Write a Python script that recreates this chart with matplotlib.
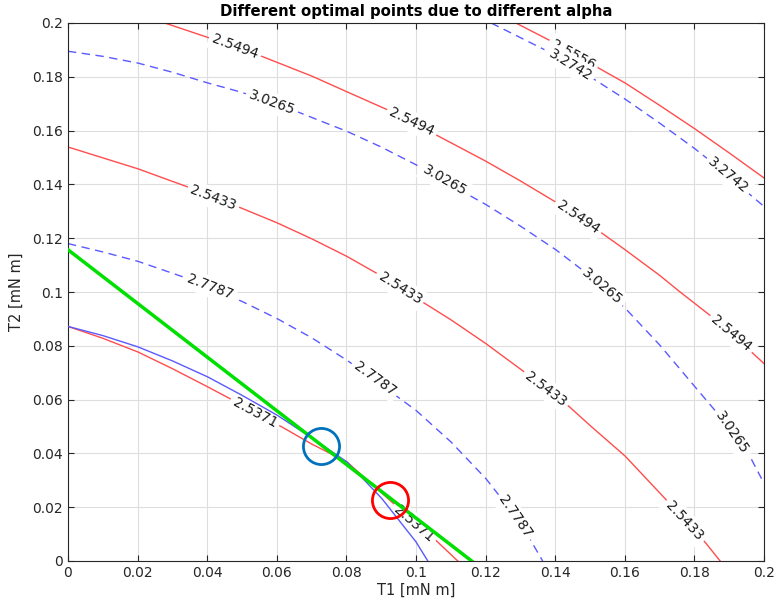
import numpy as np
import matplotlib
matplotlib.use('Agg')
import matplotlib.pyplot as plt

# contour lines, (T1, T2) in mN m
r2537_x = [0.0, 0.0100, 0.0201, 0.0300, 0.0402, 0.0469, 0.0615, 0.0700, 0.0802, 0.0936, 0.1000, 0.1057, 0.112]
r2537_y = [0.0872, 0.0828, 0.0777, 0.0715, 0.0647, 0.0601, 0.0498, 0.0435, 0.0368, 0.0213, 0.0135, 0.0077, 0.0]
b_in_x = [0.0, 0.0100, 0.0201, 0.0300, 0.0402, 0.05, 0.0601, 0.0700, 0.0802, 0.0902, 0.1, 0.1034]
b_in_y = [0.0872, 0.0838, 0.0796, 0.0744, 0.0684, 0.0616, 0.0542, 0.0458, 0.0368, 0.0232, 0.0071, 0.0]
r2543_x = [0.0, 0.0201, 0.0345, 0.0498, 0.0601, 0.0700, 0.0802, 0.0900, 0.1, 0.1100, 0.1201, 0.1311, 0.1441,
           0.15, 0.1601, 0.172, 0.183, 0.1874]
r2543_y = [0.1539, 0.1458, 0.139, 0.1312, 0.1257, 0.1198, 0.1132, 0.1060, 0.0978, 0.0897, 0.0808, 0.0703, 0.0573,
           0.0504, 0.0390, 0.0226, 0.0071, 0.0]
r2549_x = [0.0278, 0.0398, 0.0557, 0.0700, 0.0802, 0.0917, 0.1062, 0.1201, 0.1300, 0.1398, 0.1534, 0.1601,
           0.1700, 0.1759, 0.1845, 0.1969, 0.2]
r2549_y = [0.2, 0.1948, 0.1876, 0.1803, 0.1744, 0.1678, 0.1581, 0.1486, 0.1413, 0.1337, 0.1219, 0.1157,
           0.1062, 0.1, 0.0913, 0.0771, 0.0734]
r2556_x = [0.1287, 0.1383, 0.1524, 0.1601, 0.1700, 0.1802, 0.1900, 0.2]
r2556_y = [0.2, 0.1936, 0.1833, 0.1777, 0.1694, 0.1606, 0.1517, 0.1424]
b3274_x = [0.1216, 0.1369, 0.1514, 0.1601, 0.1700, 0.1802, 0.1835, 0.196, 0.2]
b3274_y = [0.2, 0.1901, 0.1789, 0.1717, 0.1628, 0.1532, 0.1498, 0.1362, 0.1318]
b3027_x = [0.0, 0.0100, 0.0201, 0.0300, 0.0402, 0.05, 0.0663, 0.0802, 0.0900, 0.1, 0.1158, 0.1201,
           0.1300, 0.1402, 0.1489, 0.1601, 0.1701, 0.1802, 0.1859, 0.1955, 0.1993]
b3027_y = [0.1895, 0.1876, 0.1851, 0.1817, 0.1777, 0.1742, 0.1668, 0.1597, 0.1539, 0.1473, 0.1356, 0.1325,
           0.1245, 0.1157, 0.1071, 0.0940, 0.0802, 0.0647, 0.056, 0.0400, 0.0306]
b2779_x = [0.0, 0.0100, 0.0201, 0.034, 0.05, 0.0601, 0.0700, 0.0802, 0.0900, 0.1, 0.1101, 0.1201,
           0.1300, 0.1364]
b2779_y = [0.118, 0.1149, 0.1114, 0.1052, 0.0965, 0.0901, 0.0830, 0.0746, 0.0655, 0.056, 0.0442, 0.0306,
           0.0143, 0.0]

# tangent line and the two optimal points
green_x = [0.0, 0.116]
green_y = [0.1157, 0.0]
opt_blue = (0.0728, 0.0428)
opt_red = (0.0926, 0.0226)

xticks = np.arange(0, 0.2001, 0.02)
yticks = np.arange(0, 0.2001, 0.02)

fig = plt.figure(figsize=(7.75, 6.07), dpi=100)
ax = fig.add_axes([68/775, 1-561/607, 696/775, 538/607])

red = '#ff4d4d'
blue = '#5a5aff'
dash = (0, (6, 4))

curves = [
    (r2537_x, r2537_y, red, '-', 2, '2.5371', [(0.0537, 0.0552), (0.0993, 0.0138)]),
    (b_in_x, b_in_y, blue, '-', 3, None, []),
    (r2543_x, r2543_y, red, '-', 2, '2.5433', [(0.0417, 0.1349), (0.0954, 0.1015), (0.1373, 0.0640), (0.1772, 0.0148)]),
    (r2549_x, r2549_y, red, '-', 2, '2.5494', [(0.048, 0.1911), (0.0988, 0.1632), (0.1466, 0.1277), (0.1906, 0.0845)]),
    (r2556_x, r2556_y, red, '-', 2, '2.5556', [(0.1451, 0.1881)]),
    (b3274_x, b3274_y, blue, dash, 2, '3.2742', [(0.1443, 0.1844), (0.1897, 0.1432)]),
    (b3027_x, b3027_y, blue, dash, 2, '3.0265', [(0.0586, 0.1703), (0.1083, 0.1413), (0.1535, 0.1019), (0.1908, 0.0476)]),
    (b2779_x, b2779_y, blue, dash, 2, '2.7787', [(0.0408, 0.1019), (0.0882, 0.0678), (0.1284, 0.0164)]),
]

ax.set_xlim(0, 0.2)
ax.set_ylim(0, 0.2)

for cx, cy, col, ls, z, lab, spots in curves:
    ax.plot(cx, cy, color=col, ls=ls, lw=1.0, zorder=z)

ax.plot(green_x, green_y, color='#00e000', lw=2.5, zorder=4)
ax.plot(*opt_blue, 'o', ms=26, mfc='none', mec='#0072bd', mew=2, zorder=5)
ax.plot(*opt_red, 'o', ms=26, mfc='none', mec='#ff0000', mew=2, zorder=5)

# inline labels, rotated along the local slope of the line
for cx, cy, col, ls, z, lab, spots in curves:
    pts = ax.transData.transform(np.column_stack([cx, cy]))
    for (lx, ly) in spots:
        p = ax.transData.transform((lx, ly))
        d = np.hypot(pts[:, 0]-p[0], pts[:, 1]-p[1])
        i = int(np.argmin(d))
        i0, i1 = max(i-1, 0), min(i+1, len(cx)-1)
        ang = np.degrees(np.arctan2(pts[i1, 1]-pts[i0, 1], pts[i1, 0]-pts[i0, 0]))
        ax.text(lx, ly, lab, rotation=ang, rotation_mode='anchor', ha='center', va='center',
                fontsize=10, color='#1a1a1a', zorder=2.5,
                bbox=dict(boxstyle='square,pad=0.25', fc='white', ec='none'))

ax.set_xticks(xticks)
ax.set_yticks(yticks)
fmt = lambda v: '%g' % round(v, 3)
ax.set_xticklabels([fmt(v) for v in xticks])
ax.set_yticklabels([fmt(v) for v in yticks])
ax.tick_params(direction='in', top=True, right=True, labelsize=10, colors='#262626', length=4)
for s in ax.spines.values():
    s.set_color('#262626')
ax.grid(True, color='#dedede', lw=0.8)
ax.set_axisbelow(True)

ax.set_xlabel('T1 [mN m]', fontsize=10.5, color='#262626', labelpad=2)
ax.set_ylabel('T2 [mN m]', fontsize=10.5, color='#262626', labelpad=6)
ax.set_title('Different optimal points due to different alpha', fontsize=10.7, fontweight='bold', pad=5)

plt.savefig('out.png', dpi=100)
